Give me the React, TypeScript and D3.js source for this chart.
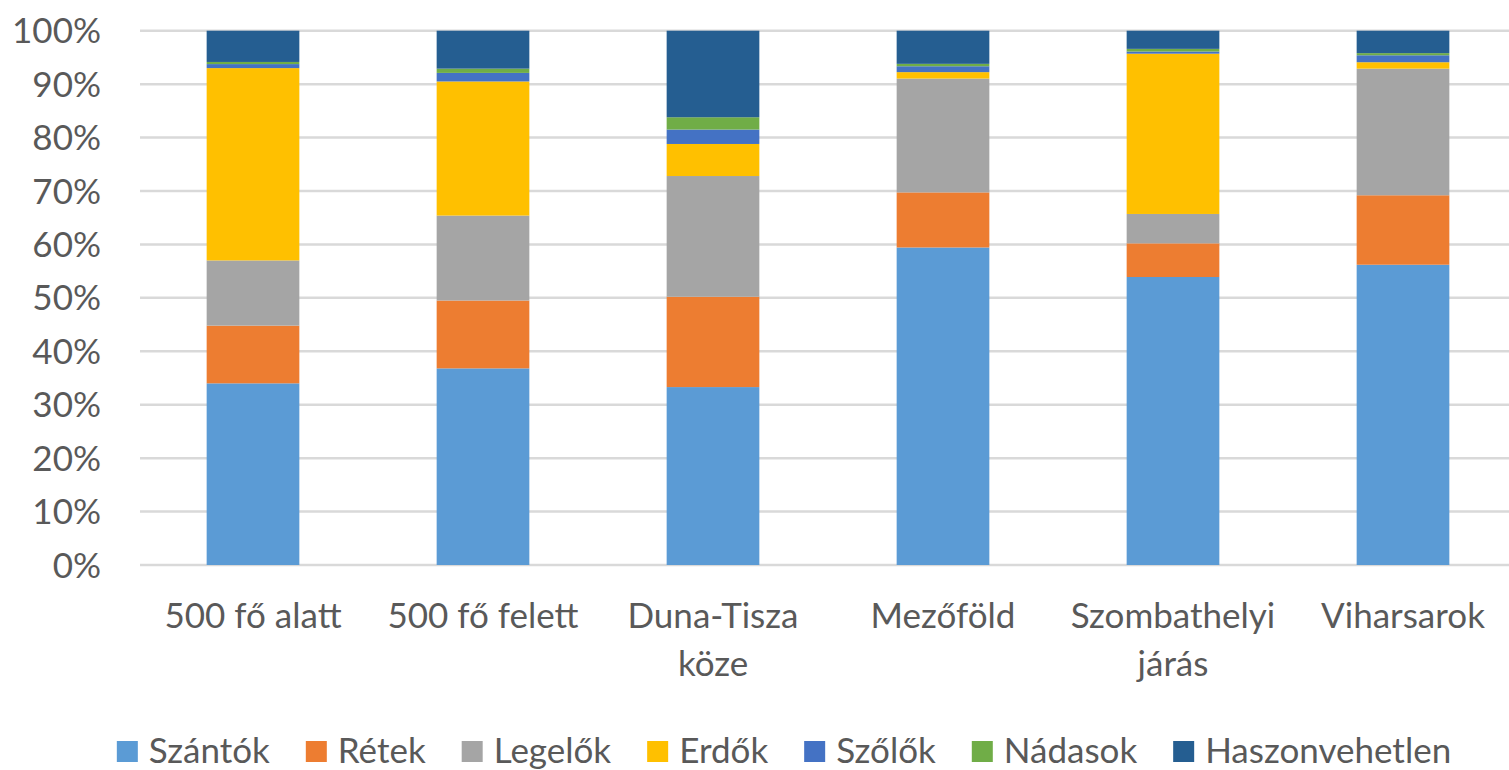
import { useEffect, useRef } from 'react';
import * as d3 from 'd3';

// Kategóriák és sorozatok (százalék)
const categories = ["500 fő alatt", "500 fő felett", "Duna-Tisza köze", "Mezőföld", "Szombathelyi járás", "Viharsarok"];
const seriesNames = ["Szántók", "Rétek", "Legelők", "Erdők", "Szőlők", "Nádasok", "Haszonvehetlen"];

const szantok = [34.0, 36.8, 33.3, 59.4, 53.9, 56.2];
const retek = [10.8, 12.7, 16.9, 10.3, 6.3, 13.0];
const legelok = [12.2, 15.9, 22.6, 21.3, 5.5, 23.7];
const erdok = [36.0, 25.1, 6.0, 1.2, 30.0, 1.2];
const szolok = [0.75, 1.6, 2.7, 1.1, 0.4, 1.3];
const nadasok = [0.4, 0.8, 2.3, 0.45, 0.5, 0.4];
const haszonvehetlen = [5.85, 7.1, 16.2, 6.2, 3.4, 4.2];

const yTicks = [0, 0.1, 0.2, 0.3, 0.4, 0.5, 0.6, 0.7, 0.8, 0.9, 1];

const colors = ["#5B9BD5", "#ED7D31", "#A5A5A5", "#FFC000", "#4472C4", "#70AD47", "#255E91"];

export default function App() {
  const svgRef = useRef<SVGSVGElement>(null);

  useEffect(() => {
    const width = 1509;
    const height = 770;
    const font = "Lato, 'Open Sans', sans-serif";
    const textColor = "#595959";

    const allSeries = [szantok, retek, legelok, erdok, szolok, nadasok, haszonvehetlen];
    const table = categories.map((c, i) => {
      const row: any = { category: c };
      seriesNames.forEach((s, j) => { row[s] = allSeries[j][i]; });
      return row;
    });

    const svg = d3.select(svgRef.current)
      .attr("width", width)
      .attr("height", height);
    svg.selectAll("*").remove();

    const x = d3.scaleBand()
      .domain(categories)
      .range([138, 1518])
      .paddingInner(0.597)
      .paddingOuter(0.2985);

    const y = d3.scaleLinear()
      .domain([0, 1])
      .range([565, 30.7]);

    const color = d3.scaleOrdinal<string>().domain(seriesNames).range(colors);

    // Rácsvonalak
    svg.append("g")
      .selectAll("line")
      .data(yTicks)
      .join("line")
      .attr("x1", 140)
      .attr("x2", width)
      .attr("y1", d => y(d))
      .attr("y2", d => y(d))
      .attr("stroke", "#d9d9d9")
      .attr("stroke-width", 2.5);

    // Y tengely feliratai
    svg.append("g")
      .selectAll("text")
      .data(yTicks)
      .join("text")
      .attr("x", 101)
      .attr("y", d => y(d))
      .attr("dy", "0.36em")
      .attr("text-anchor", "end")
      .attr("font-family", font)
      .attr("font-size", 35)
      .attr("fill", textColor)
      .text(d => d3.format(".0%")(d));

    // Halmozott oszlopok (100%)
    const stack = d3.stack<any>()
      .keys(seriesNames)
      .offset(d3.stackOffsetExpand);
    const layers = stack(table);

    svg.append("g")
      .selectAll("g")
      .data(layers)
      .join("g")
      .attr("fill", d => color(d.key))
      .selectAll("rect")
      .data(d => d)
      .join("rect")
      .attr("x", d => x(d.data.category)!)
      .attr("width", x.bandwidth())
      .attr("y", d => y(d[1]))
      .attr("height", d => y(d[0]) - y(d[1]));

    // X tengely feliratai, tördelve
    const labels = svg.append("g")
      .selectAll("text")
      .data(categories)
      .join("text")
      .attr("x", d => x(d)! + x.bandwidth() / 2)
      .attr("y", 628)
      .attr("text-anchor", "middle")
      .attr("font-family", font)
      .attr("font-size", 35)
      .attr("fill", textColor);

    labels.each(function (d) {
      const t = d3.select(this);
      const words = d.split(" ");
      let line: string[] = [];
      let lineNo = 0;
      let tspan = t.append("tspan").attr("x", x(d)! + x.bandwidth() / 2).attr("dy", 0);
      words.forEach(w => {
        line.push(w);
        tspan.text(line.join(" "));
        if ((tspan.node() as SVGTSpanElement).getComputedTextLength() > x.step() - 6 && line.length > 1) {
          line.pop();
          tspan.text(line.join(" "));
          line = [w];
          lineNo++;
          tspan = t.append("tspan")
            .attr("x", x(d)! + x.bandwidth() / 2)
            .attr("dy", 48)
            .text(w);
        }
      });
    });

    // Jelmagyarázat
    const legend = svg.append("g");
    const items = legend.selectAll("g")
      .data(seriesNames)
      .join("g");

    items.append("rect")
      .attr("width", 21)
      .attr("height", 21)
      .attr("y", 741)
      .attr("fill", d => color(d));

    items.append("text")
      .attr("x", 32)
      .attr("y", 763)
      .attr("font-family", font)
      .attr("font-size", 35)
      .attr("fill", textColor)
      .text(d => d);

    let offset = 0;
    const positions: number[] = [];
    items.each(function () {
      const tw = (d3.select(this).select("text").node() as SVGTextElement).getComputedTextLength();
      positions.push(offset);
      offset += 32 + tw + 36;
    });
    const total = offset - 36;
    const start = 784 - total / 2;
    items.attr("transform", (_, i) => `translate(${start + positions[i]},0)`);
  }, []);

  return (
    <div style={{ position: "absolute", left: 0, top: 0, background: "white" }}>
      <svg ref={svgRef} style={{ display: "block" }}></svg>
    </div>
  );
}
